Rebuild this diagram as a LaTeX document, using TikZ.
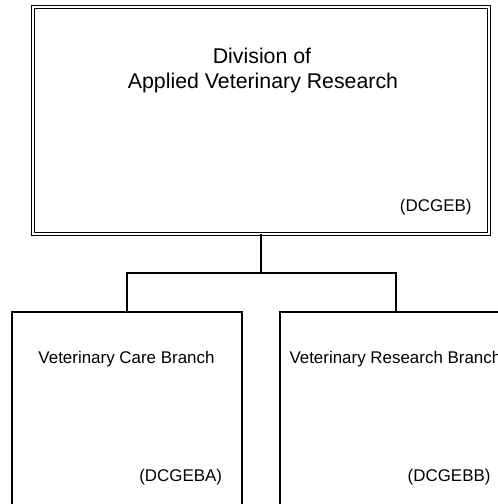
\documentclass[tikz,border=0pt]{standalone}
\usepackage{fontspec}
\setmainfont{Liberation Sans}
\begin{document}
\begin{tikzpicture}[x=1bp,y=-1bp,
  unitbox/.style={draw=black, line width=1.2bp, inner sep=0pt, outer sep=0pt, fill=white},
  divbox/.style={unitbox, double=white, double distance=2.6bp, line width=1.1bp},
  titletext/.style={inner sep=0pt, font=\fontsize{21.4}{25}\selectfont},
  smalltext/.style={inner sep=0pt, font=\fontsize{17}{20}\selectfont},
  link/.style={draw=black, line width=1.3bp}]
\useasboundingbox (0,0) rectangle (498,504);
\clip (0,0) rectangle (498,504);
\node[divbox, minimum width=456bp, minimum height=227bp] (div) at (261,120.5) {};
\node[titletext, anchor=base] (t1) at (262,63.3) {Division of};
\node[titletext, anchor=base] (t2) at (263,88.3) {Applied Veterinary Research};
\node[smalltext, anchor=base east] (c0) at (471.7,211.5) {(DCGEB)};
\node[unitbox, minimum width=230bp, minimum height=240bp, anchor=north] (vcb) at (127,312) {};
\node[unitbox, minimum width=232bp, minimum height=240bp, anchor=north] (vrb) at (396,312) {};
\node[smalltext, anchor=base west] (l1) at (38.3,363) {Veterinary Care Branch};
\node[smalltext, anchor=base east] (c1) at (222.3,481) {(DCGEBA)};
\node[smalltext, anchor=base west] (l2) at (289.3,363) {Veterinary Research Branch};
\node[smalltext, anchor=base east] (c2) at (490.7,481) {(DCGEBB)};
\coordinate (j) at (261,273);
\draw[link] (div.south) -- (j);
\draw[link] (vcb.north) |- (j) -| (vrb.north);
\end{tikzpicture}
\end{document}
